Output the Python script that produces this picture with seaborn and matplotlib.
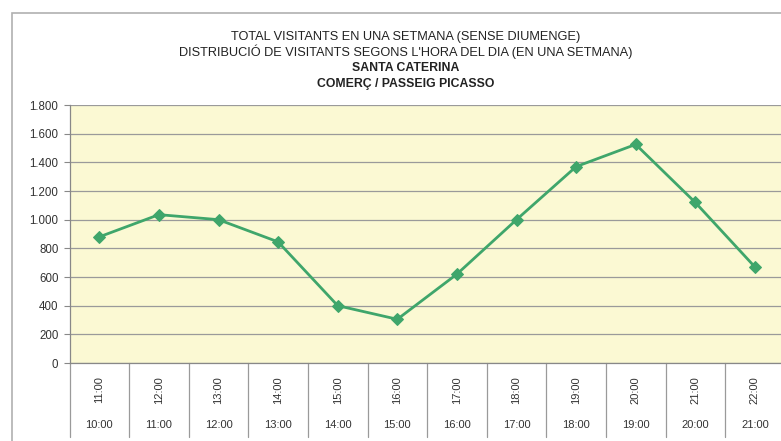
import matplotlib
matplotlib.use("Agg")
import matplotlib.pyplot as plt
import matplotlib.ticker as mticker
from matplotlib.patches import Rectangle
import seaborn as sns
import pandas as pd
import numpy as np

title_lines = [
    "TOTAL VISITANTS EN UNA SETMANA (SENSE DIUMENGE)",
    "DISTRIBUCIÓ DE VISITANTS SEGONS L'HORA DEL DIA (EN UNA SETMANA)",
    "SANTA CATERINA",
    "COMERÇ / PASSEIG PICASSO",
]
start_hours = ["10:00", "11:00", "12:00", "13:00", "14:00", "15:00",
               "16:00", "17:00", "18:00", "19:00", "20:00", "21:00"]
end_hours = ["11:00", "12:00", "13:00", "14:00", "15:00", "16:00",
             "17:00", "18:00", "19:00", "20:00", "21:00", "22:00"]
visitors = [880, 1035, 1000, 845, 400, 305, 620, 1000, 1370, 1525, 1120, 670]
y_ticks = [0, 200, 400, 600, 800, 1000, 1200, 1400, 1600, 1800]

sns.set_theme(style="white")
plt.rcParams['font.family'] = ['Liberation Sans Narrow', 'Liberation Sans', 'DejaVu Sans']

df = pd.DataFrame({"pos": np.arange(len(visitors)), "visitors": visitors})

W, H = 781, 441
fig = plt.figure(figsize=(W / 100, H / 100), dpi=100)
fig.patch.set_facecolor("white")

# chart frame
fig.add_artist(Rectangle((12 / W, -0.05), 1.2, 1 - 13 / H + 0.05,
                         transform=fig.transFigure, fill=False,
                         edgecolor="#b0b0b0", linewidth=1.2))

left, right, top, bottom = 69.5, 784.7, 105, 363
ax = fig.add_axes([left / W, 1 - bottom / H, (right - left) / W, (bottom - top) / H])
ax.set_facecolor("#fbf9d3")

sns.lineplot(data=df, x="pos", y="visitors", ax=ax, color="#3fa66b",
             linewidth=2.0, marker="D", markersize=6.5,
             markeredgecolor="#3fa66b", markerfacecolor="#3fa66b")

ax.set_xlim(-0.5, len(visitors) - 0.5)
ax.set_ylim(0, 1800)
ax.set_yticks(y_ticks)
ax.yaxis.set_major_formatter(mticker.FuncFormatter(lambda v, p: f"{int(v):,}".replace(",", ".")))
ax.grid(axis="y", color="#9a9a9a", linewidth=0.9)
ax.set_axisbelow(True)
ax.tick_params(axis="y", left=True, length=4, width=0.8, color="#888888",
               labelsize=8.3, labelcolor="#333333", pad=4)
ax.tick_params(axis="x", bottom=False, labelbottom=False)
ax.set_xlabel("")
ax.set_ylabel("")
for s in ["top", "right"]:
    ax.spines[s].set_visible(False)
for s in ["left", "bottom"]:
    ax.spines[s].set_color("#888888")
    ax.spines[s].set_linewidth(0.9)

trans = ax.get_xaxis_transform()
ph = bottom - top
for i, (a, b) in enumerate(zip(start_hours, end_hours)):
    ax.text(i, (bottom - 390) / ph, b, rotation=90, ha="center", va="center",
            fontsize=8, color="#333333", transform=trans, clip_on=False)
    ax.text(i, (bottom - 425) / ph, a, ha="center", va="center",
            fontsize=8, color="#333333", transform=trans, clip_on=False)
for k in range(len(visitors) + 1):
    ax.plot([k - 0.5, k - 0.5], [0, (bottom - 437) / ph], color="#9a9a9a",
            linewidth=0.9, transform=trans, clip_on=False)

cx = 406 / W
for txt, yy, wt, fs in zip(title_lines, [37, 52, 68, 84],
                           ["normal", "normal", "bold", "bold"],
                           [9.2, 9.2, 8.8, 8.8]):
    fig.text(cx, 1 - yy / H, txt, ha="center", va="center", fontsize=fs,
             fontweight=wt, color="#222222")

fig.savefig("out.png", dpi=100, facecolor="white")
